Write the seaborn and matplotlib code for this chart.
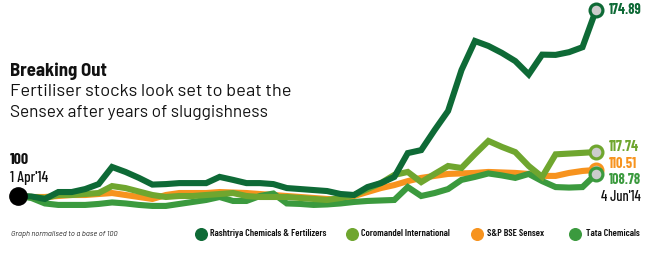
import matplotlib
matplotlib.use("Agg")
import matplotlib.pyplot as plt
from matplotlib import font_manager
import seaborn as sns
import pandas as pd

# ---------------- data ----------------
days = list(range(44))
rcf = [100, 99.8, 98.8, 101.6, 101.6, 102.8, 104.8, 111.7, 109.7, 107.3,
       104.6, 104.8, 105.2, 105.2, 105.2, 107.7, 106.5, 105.2, 105.2, 104.8,
       103.2, 102.8, 102.4, 102.0, 100.8, 100.4, 103.6, 105.2, 107.7, 117.3,
       118.5, 126.6, 134.3, 150.8, 162.5, 160.5, 157.7, 154.4, 149.0, 157.0,
       156.9, 158.0, 160.0, 174.89]
coromandel = [100, 99.6, 99.2, 100.4, 100.4, 100.8, 101.2, 104.0, 103.2, 101.8,
              100.4, 99.6, 100.0, 100.0, 100.4, 100.8, 101.2, 100.0, 99.6, 99.6,
              99.6, 99.2, 98.8, 98.4, 99.2, 100.4, 102.8, 105.2, 108.5, 109.7,
              105.6, 108.9, 112.1, 111.3, 116.9, 122.2, 119.8, 117.7, 112.1, 107.7,
              116.8, 117.1, 117.4, 117.74]
sensex = [100, 99.6, 99.6, 100.0, 100.4, 100.4, 100.8, 101.2, 100.4, 99.6,
          98.8, 100.4, 101.2, 101.2, 101.2, 101.6, 101.4, 101.2, 100.8, 100.4,
          100.0, 99.6, 99.2, 98.8, 98.4, 100.0, 101.6, 103.2, 104.4, 106.0,
          107.3, 108.1, 108.9, 109.1, 109.3, 109.7, 109.5, 109.3, 108.9, 108.1,
          108.1, 109.3, 110.1, 110.51]
tata = [100, 99.2, 97.0, 96.4, 96.4, 96.4, 96.8, 97.4, 97.0, 96.4,
        96.0, 96.0, 96.8, 97.6, 98.4, 99.6, 98.0, 98.0, 100.0, 101.0,
        97.0, 96.8, 96.4, 96.6, 97.0, 97.6, 98.0, 98.2, 98.4, 103.6,
        100.0, 101.2, 102.8, 106.5, 107.7, 109.1, 108.3, 107.3, 108.9, 106.0,
        103.6, 103.4, 103.6, 108.78]

names = ["Rashtriya Chemicals & Fertilizers", "Coromandel International",
         "S&P BSE Sensex", "Tata Chemicals"]
end_labels = ["174.89", "117.74", "110.51", "108.78"]
start_label = "100"
start_date = "1 Apr'14"
end_date = "4 Jun'14"
title = "Breaking Out"
subtitle = ["Fertiliser stocks look set to beat the",
            "Sensex after years of sluggishness"]
note = "Graph normalised to a base of 100"

colors = {names[0]: "#0e6a36", names[1]: "#6fa62f",
          names[2]: "#f7931e", names[3]: "#3b9a3e"}

series = {names[0]: rcf, names[1]: coromandel, names[2]: sensex, names[3]: tata}
df = pd.concat([pd.DataFrame({"day": days, "value": v, "stock": k})
                for k, v in series.items()], ignore_index=True)

# ---------------- fonts ----------------
avail = {f.name for f in font_manager.fontManager.ttflist}


def pick(cands):
    for c in cands:
        if c in avail:
            return c
    return "DejaVu Sans"


semi = pick(["Barlow Semi Condensed", "Barlow Condensed", "Roboto Condensed",
             "Asap Condensed", "Archivo Narrow", "DejaVu Sans"])
cond = pick(["Barlow Condensed", "Barlow Semi Condensed", "Roboto Condensed",
             "Archivo Narrow", "PT Sans Narrow", "DejaVu Sans"])
reg = pick(["Barlow", "Open Sans", "DejaVu Sans"])

sns.set_theme(style="white")
plt.rcParams["font.family"] = [reg, "DejaVu Sans"]

W, H = 650, 256
fig = plt.figure(figsize=(W / 100, H / 100), dpi=100)
ax = fig.add_axes([0, 0, 1, 1])

draw_order = [names[2], names[3], names[1], names[0]]
sns.lineplot(data=df, x="day", y="value", hue="stock", hue_order=draw_order,
             palette=colors, linewidth=4.4, ax=ax, legend=False,
             solid_joinstyle="miter", solid_capstyle="butt")

# px mapping: x px = 18 + 13.44*day ; y px = 196 - 2.48*(v-100)
ax.set_xlim(-18 / 13.44, (W - 18) / 13.44)
ax.set_ylim(100 - (H - 196) / 2.48, 100 + 196 / 2.48)
ax.axis("off")

for nm in draw_order:
    v = series[nm][-1]
    ax.scatter([days[-1]], [v], s=85, facecolor="#cccccc", edgecolor=colors[nm],
               linewidth=2.3, zorder=5)
ax.scatter([0], [100], s=155, color="black", zorder=6)

renderer = fig.canvas.get_renderer()


def fx(px):
    return px / W


def fy(py):
    return 1 - py / H


def fit_size(s, width, **kw):
    t = fig.text(0, 0, s, fontsize=10, **kw)
    w = t.get_window_extent(renderer).width
    t.remove()
    return 10 * width / w


def put(px, py, s, width, ha="left", size=None, **kw):
    fs = size if size is not None else fit_size(s, width, **kw)
    return fig.text(fx(px), fy(py), s, va="center", ha=ha, fontsize=fs, **kw)


lab_style = dict(family=cond, weight="bold")
lab_fs = fit_size(end_labels[0], 33, **lab_style)
lab_y = [10, 147, 164, 180]
for nm, lab, yy in zip(names, end_labels, lab_y):
    put(609, yy, lab, 33, size=lab_fs, color=colors[nm], **lab_style)
put(641, 197, end_date, 40, ha="right", family=cond, weight="medium", color="#111111")

put(10, 71, title, 97, family=semi, weight="bold", color="#111111")
put(10, 92, subtitle[0], 282, family=reg, color="#111111")
put(10, 113, subtitle[1], 258, family=reg, color="#111111")

put(10, 160, start_label, 19, family=cond, weight="bold", color="#111111")
put(10, 178, start_date, 38, family=cond, weight="medium", color="#111111")

put(11, 235, note, 106, family=reg, style="italic", color="#222222")

leg_style = dict(family=cond, weight="semibold")
leg_fs = fit_size(names[0], 117, **leg_style)
leg_dot = [201, 352, 477, 575]
leg_txt = [210, 361, 487, 586]
for nm, dx, tx in zip(names, leg_dot, leg_txt):
    ax.scatter([(dx - 18) / 13.44], [100 - (234 - 196) / 2.48], s=70,
               color=colors[nm], zorder=6, clip_on=False)
    put(tx, 234, nm, 0, size=leg_fs, color="#111111", **leg_style)

fig.savefig("out.png", dpi=100, facecolor="white")
